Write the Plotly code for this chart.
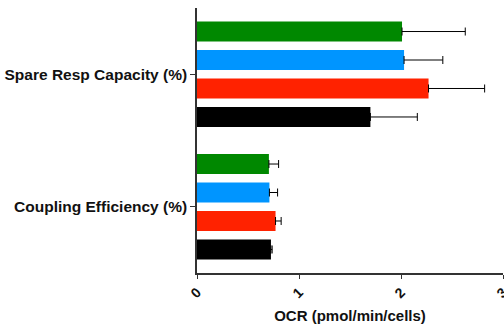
import plotly.graph_objects as go

# Measured parameters (bottom to top within each group)
categories = ["Coupling Efficiency (%)", "Spare Resp Capacity (%)"]
series_names = ["Black", "Red", "Blue", "Green"]
series_colors = ["#000000", "#ff2200", "#0095ff", "#008800"]

# OCR means per series, in category order
ocr_means = {
    "Black": [0.725, 1.70],
    "Red":   [0.77, 2.27],
    "Blue":  [0.71, 2.03],
    "Green": [0.705, 2.01],
}
# Upper error (SEM) per series
ocr_err = {
    "Black": [0.012, 0.46],
    "Red":   [0.055, 0.55],
    "Blue":  [0.08, 0.38],
    "Green": [0.095, 0.62],
}

x_ticks = [0, 1, 2, 3]

fig = go.Figure()
for name, color in zip(series_names, series_colors):
    fig.add_trace(go.Bar(
        y=categories,
        x=ocr_means[name],
        name=name,
        orientation="h",
        marker=dict(color=color, line=dict(width=0)),
        error_x=dict(type="data", array=ocr_err[name], symmetric=False,
                     arrayminus=[0, 0], color="#000000", thickness=1, width=4),
    ))

fig.update_layout(
    width=504, height=326,
    margin=dict(l=197, r=1, t=8, b=53),
    paper_bgcolor="white", plot_bgcolor="white",
    barmode="group", bargap=0.14, bargroupgap=0.3,
    showlegend=False,
    font=dict(family="Liberation Sans, Arial, sans-serif", color="#111111"),
)
fig.update_xaxes(
    range=[0, 3], tickvals=x_ticks, ticktext=[str(t) for t in x_ticks],
    tickangle=-45, ticks="outside", ticklen=4, tickwidth=1.2, tickcolor="#333333",
    showline=True, linecolor="#333333", linewidth=1.5, showgrid=False, zeroline=False,
    tickfont=dict(size=14, family="Liberation Sans, Arial, sans-serif", weight="bold"),
    ticklabeloverflow="allow",
    title=dict(text="<b>OCR (pmol/min/cells)</b>", font=dict(size=15), standoff=10),
    automargin=False,
)
fig.update_yaxes(
    range=[-0.5, 1.5], categoryorder="array", categoryarray=categories,
    ticks="outside", ticklen=5, tickwidth=1.2, tickcolor="#333333",
    showline=True, linecolor="#333333", linewidth=1.5, showgrid=False, zeroline=False,
    tickfont=dict(size=15.5, family="Liberation Sans, Arial, sans-serif", weight="bold"),
    automargin=False,
)

fig.write_html("out.html")
